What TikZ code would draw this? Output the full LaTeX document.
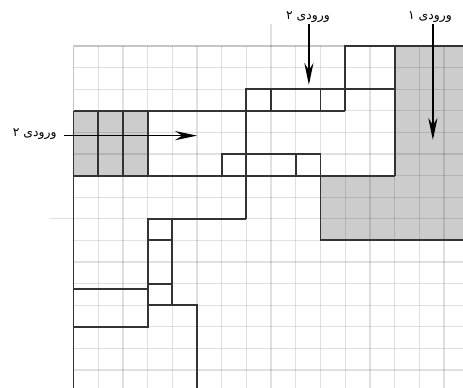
\documentclass[tikz,border=0pt]{standalone}
\usepackage{fontspec}
\newfontfamily\persianfont[Script=Arabic]{DejaVu Sans}
\TeXXeTstate=1
\usetikzlibrary{arrows.meta}

\begin{document}
\begin{tikzpicture}[
    x=0.6175cm, y=-0.54cm, % one cell of the grid
    gridline/.style={draw=black, draw opacity=0.12, line width=0.9pt},
    blockline/.style={draw=black!80, line width=1.4pt, line cap=square},
    shaded/.style={fill=gray!40},
    inarrow/.style={-{Stealth[length=5.5mm, width=2.3mm, inset=1.8mm]}, line width=1pt},
    inlabel/.style={font=\persianfont\fontsize{8.8}{10}\selectfont, inner sep=1pt}
]

\clip (-2.976,-2.13) rectangle (15.77,15.83);

% --- shaded blocks ---
\path[shaded] (13,0) -- (16,0) -- (16,9) -- (10,9) -- (10,6) -- (13,6) -- cycle;
\path[shaded] (0,3) rectangle (3,6);

% --- the grid ---
\foreach \i in {0,...,16} {
    \draw[gridline] (\i,0) -- (\i,16);
    \draw[gridline] (0,\i) -- (16,\i);
}
\draw[gridline] (8,-1) -- (8,0);
\draw[gridline] (-1,8) -- (0,8);
\draw[gridline, line width=1.3pt] (16,0) -- (0,0) -- (0,16);

% --- top right blocks ---
\draw[blockline] (11,3) -- (11,0) -- (16,0);
\draw[blockline] (13,0) -- (13,6);
\draw[blockline] (7,8) -- (7,2) -- (13,2);
\draw[blockline] (8,2) -- (8,3);
\draw[blockline] (10,2) -- (10,3);
\draw[blockline] (0,3) -- (11,3);

% --- middle band ---
\draw[blockline] (0,6) -- (13,6);
\draw[blockline] (10,6) -- (10,9) -- (16,9);
\foreach \c in {1,2,3}
    \draw[blockline] (\c,3) -- (\c,6);
\draw[blockline] (6,6) -- (6,5) -- (10,5) -- (10,6);
\draw[blockline] (9,5) -- (9,6);

% --- lower left blocks ---
\draw[blockline] (0,3) -- (0,16);
\draw[blockline] (7,8) -- (3,8) -- (3,13) -- (0,13);
\draw[blockline] (0,11.25) -- (3,11.25);
\draw[blockline] (4,8) -- (4,12);
\draw[blockline] (3,9) -- (4,9);
\draw[blockline] (3,11) -- (4,11);
\draw[blockline] (3,12) -- (5,12) -- (5,16);

% --- inputs ---
\node[inlabel] (in1) at (14.43,-1.34) {\beginR ورودی ۱\endR};
\node[inlabel] (in2top) at (9.49,-1.34) {\beginR ورودی ۲\endR};
\node[inlabel, anchor=east] (in2left) at (-0.62,4.1) {\beginR ورودی ۲\endR};

\coordinate (in1end) at (14.55,4.35);
\coordinate (in2topend) at (9.53,1.8);
\coordinate (in2leftend) at (5.0,4.15);

\draw[inarrow] (in1.south -| in1end) -- (in1end);
\draw[inarrow] (in2top.south -| in2topend) -- (in2topend);
\draw[inarrow] ([xshift=4pt]in2left.east |- in2leftend) -- (in2leftend);

\end{tikzpicture}
\end{document}
